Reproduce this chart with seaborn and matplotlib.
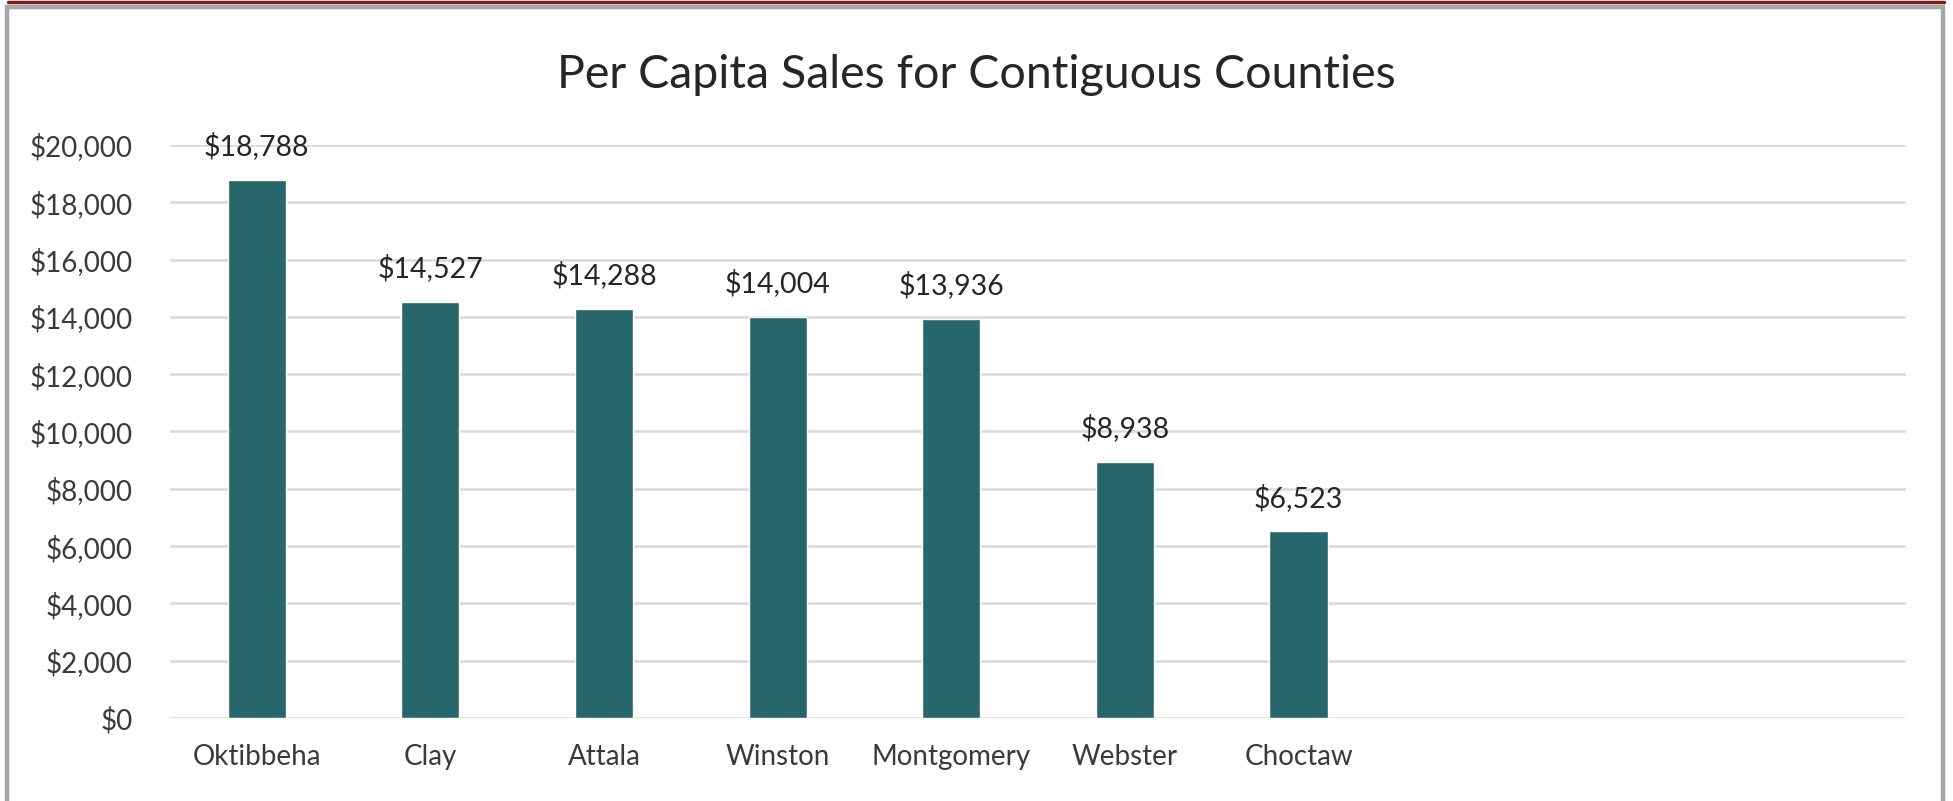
import matplotlib
matplotlib.use("Agg")
import matplotlib.pyplot as plt
import seaborn as sns
from matplotlib.patches import Rectangle
from matplotlib.lines import Line2D
from matplotlib.ticker import FuncFormatter

counties = ["Oktibbeha", "Clay", "Attala", "Winston", "Montgomery", "Webster", "Choctaw"]
sales = [18788, 14527, 14288, 14004, 13936, 8938, 6523]
y_ticks = list(range(0, 20001, 2000))

bar_color = "#27666b"
text_color = "#3a3a3a"

sns.set_style("white")
plt.rcParams['font.family'] = ['Lato', 'DejaVu Sans']

fig = plt.figure(figsize=(19.53, 8.01), dpi=100)
ax = fig.add_axes([0.087, 0.1036, 0.889, 0.7154])

sns.barplot(x=counties, y=sales, color=bar_color, width=0.335, saturation=1, ax=ax)
ax.set_xlim(-0.5, 9.5)  # three empty category slots on the right, as in the source sheet
ax.set_ylim(0, 20000)
ax.set_yticks(y_ticks)
ax.yaxis.set_major_formatter(FuncFormatter(lambda v, _: f"${v:,.0f}"))
ax.grid(axis="y", color="#d9d9d9", linewidth=1.8)
ax.set_axisbelow(True)
for s in ax.spines.values():
    s.set_visible(False)
ax.tick_params(axis="both", length=0, labelsize=20, colors=text_color)
ax.tick_params(axis="y", pad=27)
ax.tick_params(axis="x", pad=19)

ax.bar_label(ax.containers[0], labels=[f"${v:,.0f}" for v in sales],
             padding=14, fontsize=20.5, color="#262626")

fig.text(0.5, 0.906, "Per Capita Sales for Contiguous Counties", ha="center", va="center",
         fontsize=33.5, color="#262626")

# outer frame like the pasted screenshot
fig.patches.append(Rectangle((7 / 1953, -0.05), (1943 - 7) / 1953, 1 - 7 / 801 + 0.05,
                             transform=fig.transFigure, fill=False, edgecolor="#a6a6a6",
                             linewidth=3.2))
fig.lines.append(Line2D([8 / 1953, 1944 / 1953], [1 - 1.5 / 801] * 2, transform=fig.transFigure,
                        color="#7a1f1f", linewidth=2.5))

fig.savefig("out.png", dpi=100, facecolor="white")
